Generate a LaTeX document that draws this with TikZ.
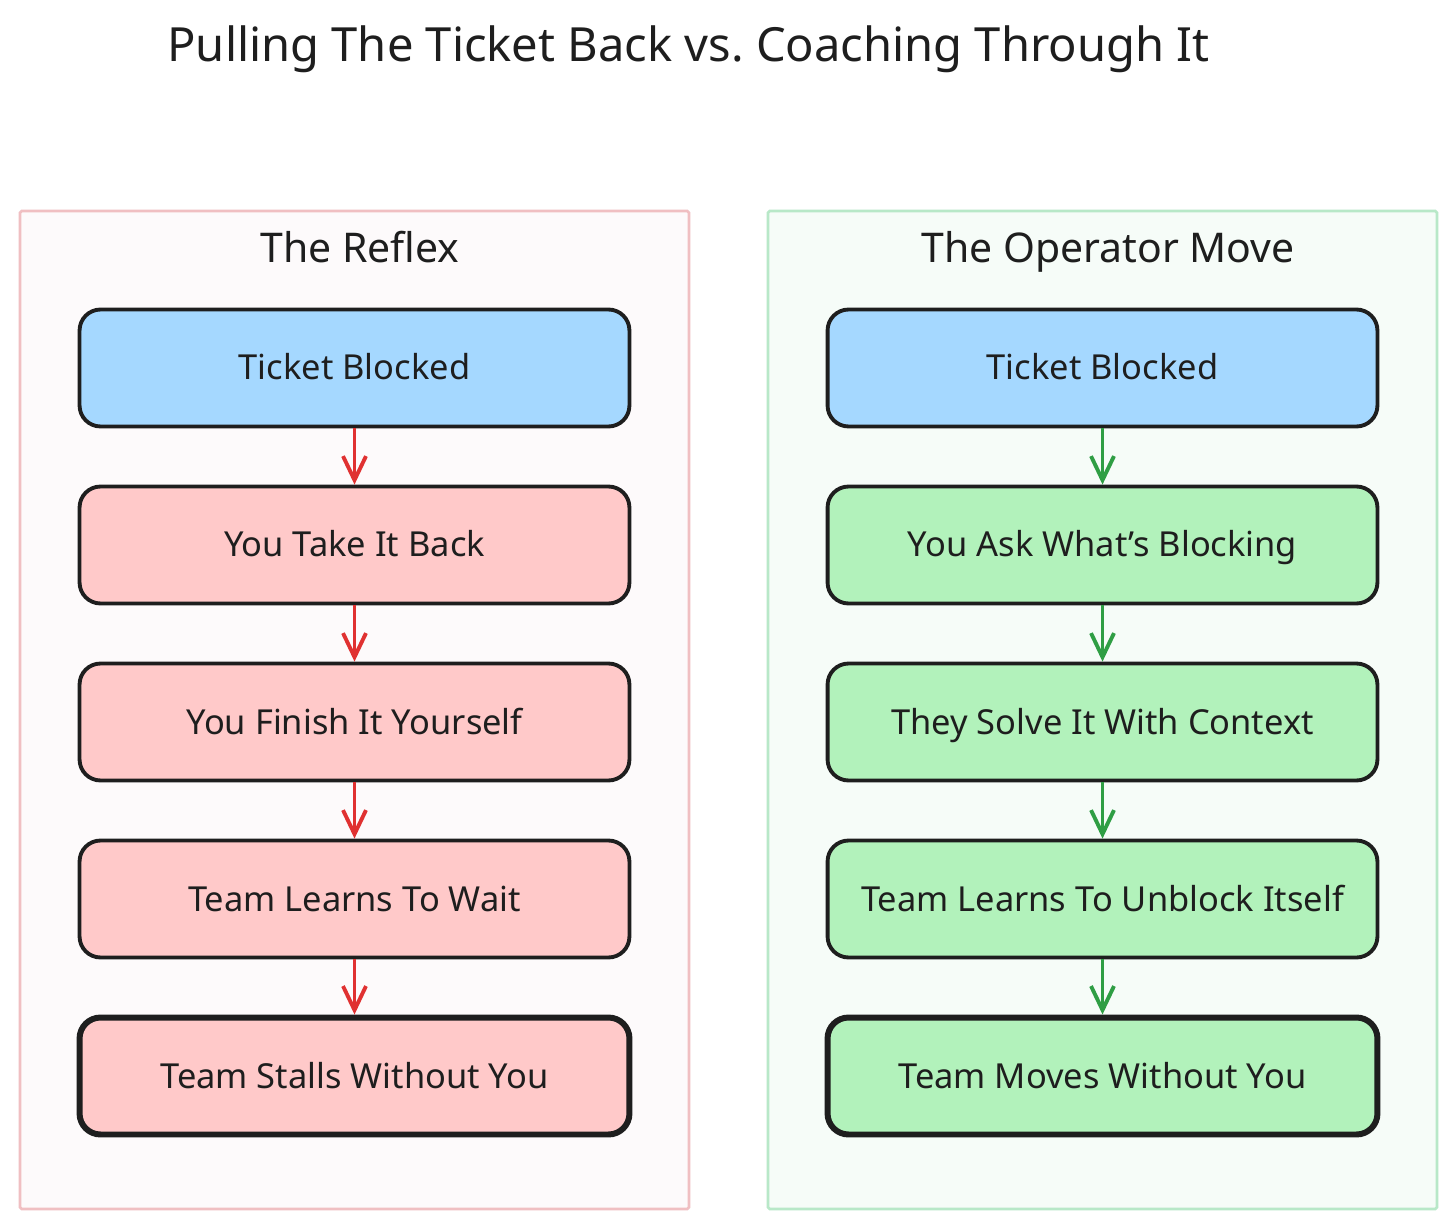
\documentclass[tikz,border=0pt]{standalone}
\usepackage{fontspec}
\setmainfont{Noto Sans}
\frenchspacing
\usetikzlibrary{arrows.meta}
\definecolor{blueF}{HTML}{A5D8FF}
\definecolor{pinkF}{HTML}{FFC9C9}
\definecolor{greenF}{HTML}{B2F2BB}
\definecolor{redL}{HTML}{E03131}
\definecolor{greenL}{HTML}{2F9E44}
\definecolor{pinkPanel}{HTML}{FDFAFB}
\definecolor{pinkBorder}{HTML}{F0BFC2}
\definecolor{greenPanel}{HTML}{F6FCF8}
\definecolor{greenBorder}{HTML}{B8E8C8}
\definecolor{ink}{HTML}{1E1E1E}
\tikzset{
  panelbox/.style={line width=1.5pt, rounded corners=1pt},
  flowbox/.style={draw=ink, line width=2.2pt, rounded corners=0.42cm,
    minimum width=11.0cm, minimum height=2.34cm, inner sep=0pt,
    text height=0.6cm, text depth=0.12cm,
    font=\fontsize{19.6}{22}\selectfont, text=ink},
  lastbox/.style={flowbox, line width=3.4pt},
  paneltitle/.style={font=\fontsize{23.3}{27}\selectfont, text=ink, inner sep=0pt, anchor=base},
  redarrow/.style={draw=redL, line width=2.2pt, -{Straight Barb[length=0.48cm, width=0.46cm, line width=2.2pt]}},
  greenarrow/.style={draw=greenL, line width=2.2pt, -{Straight Barb[length=0.48cm, width=0.46cm, line width=2.2pt]}}
}
\begin{document}
\begin{tikzpicture}[x=0.02cm, y=-0.02cm]
\useasboundingbox[fill=white] (0,0) rectangle (1456,1229);
\node[font=\fontsize{26.8}{32}\selectfont, text=ink, inner sep=0pt, anchor=base] (title) at (688.5,62) {Pulling The Ticket Back vs. Coaching Through It};
% panels
\draw[panelbox, draw=pinkBorder, fill=pinkPanel] (20,211) rectangle (689,1209);
\draw[panelbox, draw=greenBorder, fill=greenPanel] (768,211) rectangle (1437,1209);
\node[paneltitle] (lt) at (360,263) {The Reflex};
\node[paneltitle] (rt) at (1108,263) {The Operator Move};
% left column
\node[flowbox, fill=blueF] (l1) at (354.5,368) {Ticket Blocked};
\node[flowbox, fill=pinkF] (l2) at (354.5,545) {You Take It Back};
\node[flowbox, fill=pinkF] (l3) at (354.5,722) {You Finish It Yourself};
\node[flowbox, fill=pinkF] (l4) at (354.5,899) {Team Learns To Wait};
\node[lastbox, fill=pinkF] (l5) at (354.5,1076) {Team Stalls Without You};
% right column
\node[flowbox, fill=blueF] (r1) at (1102.5,368) {Ticket Blocked};
\node[flowbox, fill=greenF] (r2) at (1102.5,545) {You Ask What's Blocking};
\node[flowbox, fill=greenF] (r3) at (1102.5,722) {They Solve It With Context};
\node[flowbox, fill=greenF] (r4) at (1102.5,899) {Team Learns To Unblock Itself};
\node[lastbox, fill=greenF] (r5) at (1102.5,1076) {Team Moves Without You};
% arrows
\foreach \a/\b in {l1/l2,l2/l3,l3/l4,l4/l5} \draw[redarrow] (\a.south) -- (\b.north);
\foreach \a/\b in {r1/r2,r2/r3,r3/r4,r4/r5} \draw[greenarrow] (\a.south) -- (\b.north);
\end{tikzpicture}
\end{document}
